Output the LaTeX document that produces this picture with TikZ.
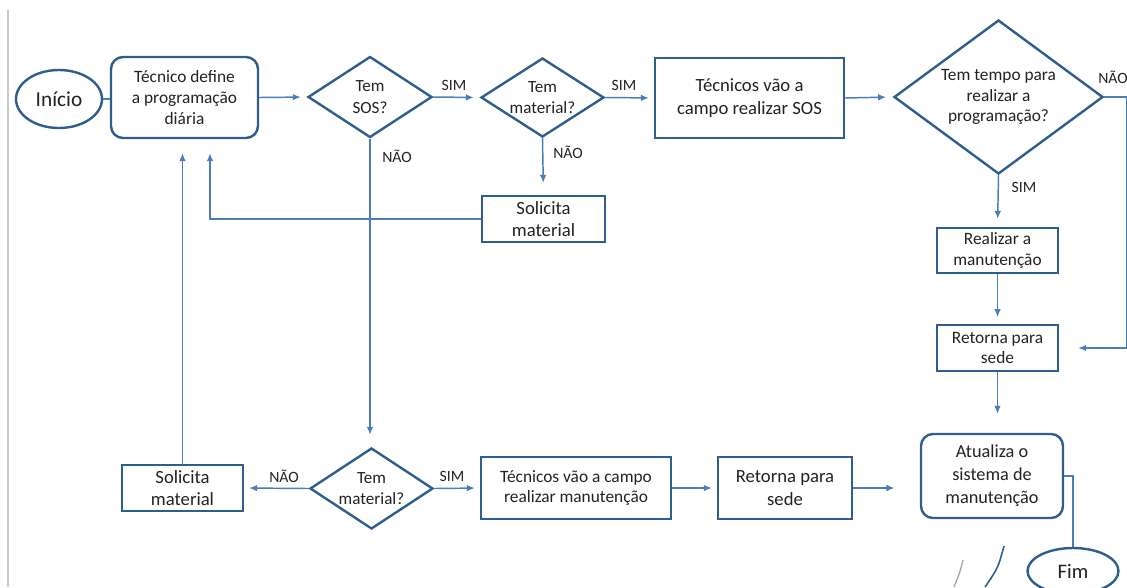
\documentclass[tikz,border=0pt]{standalone}
\usepackage{fontspec}
\setmainfont{Carlito}
\usetikzlibrary{arrows.meta,shapes.geometric,positioning}
\definecolor{BoxBlue}{HTML}{2F5D8C}
\definecolor{LineBlue}{HTML}{4A7EBB}
\definecolor{TextInk}{HTML}{222222}
\definecolor{EdgeGray}{HTML}{C8C8C8}

\begin{document}
\begin{tikzpicture}[x=0.75pt,y=-0.75pt,>={Latex[length=6pt,width=5pt]},
    every node/.style={text=TextInk,font=\fontsize{13}{15.5}\selectfont},
    proc/.style={rectangle,draw=BoxBlue,line width=1.8pt,align=center,inner sep=0pt},
    term/.style={ellipse,draw=BoxBlue,line width=1.8pt,inner sep=0pt},
    decide/.style={diamond,draw=BoxBlue,line width=1.8pt,inner sep=0pt},
    lbl/.style={font=\fontsize{11.8}{13}\selectfont,inner sep=1pt},
    flow/.style={LineBlue,line width=1.1pt}]
    \useasboundingbox (0,0) rectangle (1127,587);
    \clip (0,0) rectangle (1127,587);
    \draw[EdgeGray,line width=1pt] (8,10) -- (8,587);

    % top row
    \node[term,minimum width=64.5pt,minimum height=43.5pt,font=\fontsize{16}{18}\selectfont]
      (inicio) at (59,99) {Início};
    \node[proc,rounded corners=9pt,minimum width=110.25pt,minimum height=60.75pt]
      (define) at (184.5,97.5) {Técnico define\\a programação\\diária};
    \node[decide,minimum width=93pt,minimum height=60.75pt,
          label={[align=center,font=\fontsize{12.8}{16.5}\selectfont]center:{Tem\\SOS?}}]
      (sos) at (370,97) {};
    \node[decide,minimum width=92.25pt,minimum height=59.25pt,
          label={[align=center,font=\fontsize{12.8}{15.5}\selectfont]center:{Tem\\material?}}]
      (mat1) at (542.5,97.5) {};
    \node[proc,minimum width=141.75pt,minimum height=60pt,font=\fontsize{14}{17.2}\selectfont]
      (sosbox) at (749.5,98) {Técnicos vão a\\campo realizar SOS};
    \node[decide,minimum width=156.75pt,minimum height=115.5pt,
          label={[align=center,font=\fontsize{13}{15.5}\selectfont]center:{Tem tempo para\\realizar a\\programação?}}]
      (tempo) at (998.5,97) {};

    % right column
    \node[proc,minimum width=90.75pt,minimum height=33.75pt,font=\fontsize{13}{15.7}\selectfont]
      (realizar) at (997.5,250.5) {Realizar a\\manutenção};
    \node[proc,minimum width=90.75pt,minimum height=34.5pt,font=\fontsize{13}{15.7}\selectfont]
      (retorna1) at (997.5,348) {Retorna para\\sede};
    \node[proc,rounded corners=9pt,minimum width=106.5pt,minimum height=63pt,
          font=\fontsize{13.7}{17.3}\selectfont]
      (atualiza) at (992,476) {Atualiza o\\sistema de\\manutenção};
    \node[term,minimum width=68.25pt,minimum height=34.5pt,font=\fontsize{15.5}{18}\selectfont]
      (fim) at (1073,571) {Fim};

    % middle and bottom row
    \node[proc,minimum width=92.25pt,minimum height=34.5pt,font=\fontsize{14}{16.3}\selectfont]
      (sol1) at (543.5,219) {Solicita\\material};
    \node[decide,minimum width=92.25pt,minimum height=60.75pt,
          label={[align=center,font=\fontsize{12.8}{15.5}\selectfont]center:{Tem\\material?}}]
      (mat2) at (371.5,488.5) {};
    \node[proc,minimum width=90.75pt,minimum height=34.5pt,font=\fontsize{14}{16.3}\selectfont]
      (sol2) at (182.5,488) {Solicita\\material};
    \node[proc,minimum width=142.5pt,minimum height=46.5pt]
      (manut) at (576,488) {Técnicos vão a campo\\realizar manutenção};
    \node[proc,minimum width=100.5pt,minimum height=46.5pt,font=\fontsize{14}{17.3}\selectfont]
      (retorna2) at (785,488) {Retorna para\\sede};

    % labels
    \node[lbl] (sim1) at (454,85) {SIM};
    \node[lbl] (sim2) at (624,85) {SIM};
    \node[lbl] (nao1) at (397,156) {NÃO};
    \node[lbl] (nao2) at (568,152) {NÃO};
    \node[lbl] (nao3) at (1113,77) {NÃO};
    \node[lbl] (sim3) at (1024,187) {SIM};
    \node[lbl] (nao4) at (284,476) {NÃO};
    \node[lbl] (sim4) at (452,476) {SIM};

    \coordinate (define-in) at ([xshift=19.1pt]define.south);

    % connectors
    \draw[flow] (inicio.east) -- (inicio.east -| define.west);
    \draw[flow,->,shorten >=4.5pt] (define.east) -- (sos.west);
    \draw[flow,->,shorten >=4.5pt] (sos.east) -- (mat1.west);
    \draw[flow,->,shorten >=3.75pt] (mat1.east) -- (sosbox.west);
    \draw[flow,->,shorten >=5pt] (sosbox.east) -- (tempo.west);
    \draw[flow,->,shorten >=6pt] (tempo.south) -- (realizar.north);
    \draw[flow,->,shorten >=5pt] (realizar.south) -- (retorna1.north);
    \draw[flow,->,shorten >=14.25pt] (tempo.east) -- ++(23,0) |- (retorna1.east);
    \draw[flow,->,shorten >=14.25pt] (retorna1.south) -- (retorna1.south |- atualiza.north);
    \draw[flow,->,shorten >=9pt] (sos.south) -- (sos.south |- mat2.north);
    \draw[flow,->,shorten >=9pt] (mat1.south) -- (sol1.north);
    \draw[flow,->,shorten >=10.5pt] (sol1.west) -| (define-in);
    \draw[flow,->,shorten >=10.5pt] (sol2.north) -- (sol2.north |- define.south);
    \draw[flow,->,shorten >=3.75pt] (mat2.west) -- (sol2.east);
    \draw[flow,->,shorten >=3.75pt] (mat2.east) -- (manut.west);
    \draw[flow,->,shorten >=3.75pt] (manut.east) -- (retorna2.west);
    \draw[flow,->,shorten >=19pt] (retorna2.east) -- (retorna2.east -| atualiza.west);
    \draw[flow] (atualiza.east) -| (fim.north);

    % stray strokes at the bottom
    \draw[gray!70,line width=1pt] (963,560) .. controls (960,572) .. (954,587);
    \draw[BoxBlue,line width=1.2pt] (1004,546) .. controls (998,568) .. (985,587);
  \end{tikzpicture}
\end{document}
